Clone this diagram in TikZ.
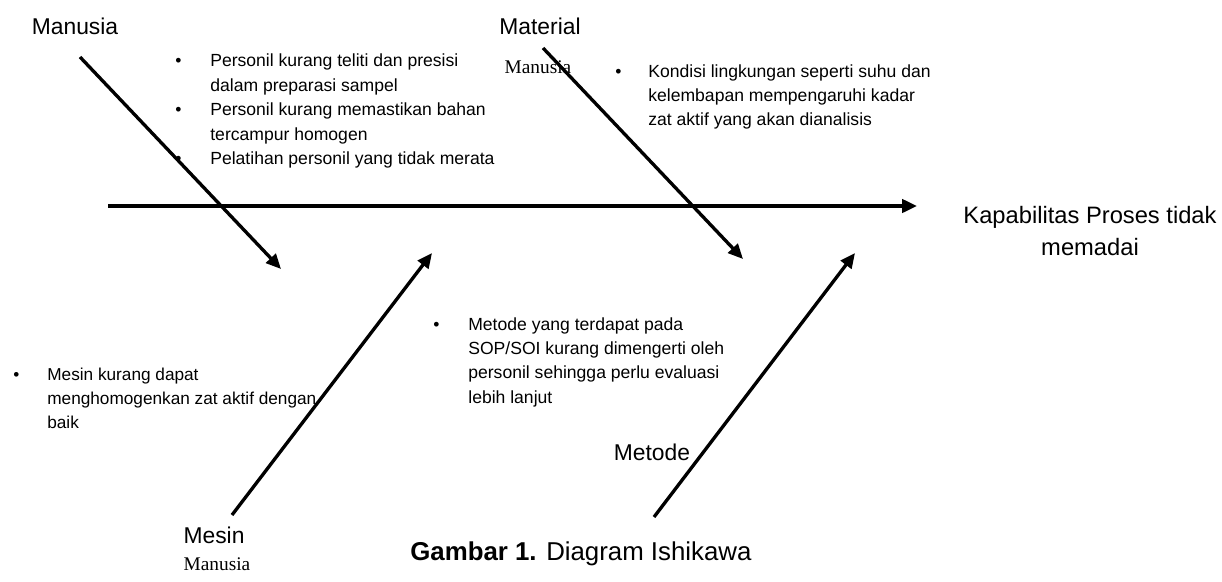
\documentclass[tikz,border=0pt]{standalone}
\usepackage{fontspec}
\setmainfont{Liberation Sans}
\newfontfamily\timesfont{Liberation Serif}
\usepackage{tikz}
\usetikzlibrary{arrows.meta,positioning}

\newcommand{\bul}{\textbullet}

\begin{document}
\begin{tikzpicture}[
x=0.02cm, y=-0.02cm,
>={Triangle[length=8.5pt,width=7.5pt]},
spine/.style={->,line width=2.4pt},
tulang/.style={->,line width=1.9pt},
kategori/.style={anchor=base,inner sep=0,font=\fontsize{13}{15}\selectfont},
sebab/.style={anchor=base west,inner sep=0,font=\fontsize{10}{13.9}\selectfont},
kecil/.style={anchor=base,inner sep=0,font=\timesfont\fontsize{11}{13}\selectfont}
]
    \useasboundingbox (0,0) rectangle (1222,581);

    % Draw spine
    \coordinate (ekor) at (108,206);
    \coordinate (kepala) at (917,206);
    \draw[spine] (ekor) -- (kepala);

    \node[anchor=base,inner sep=0,font=\fontsize{13.5}{18.7}\selectfont] (akibat) at (1090,223)
        {\begin{tabular}[t]{@{}c@{}}Kapabilitas Proses tidak\\ memadai\end{tabular}};

    % Draw bones
    \draw
    (80,57) coordinate (manA)
    (281,269) coordinate (manB)
    (543,48) coordinate (matA)
    (743,259) coordinate (matB)
    (232,515) coordinate (mesA)
    (432,253) coordinate (mesB)
    (654,517) coordinate (metA)
    (855,253) coordinate (metB);

    \draw[tulang] (manA) -- (manB);
    \draw[tulang] (matA) -- (matB);
    \draw[tulang] (mesA) -- (mesB);
    \draw[tulang] (metA) -- (metB);

    % Category labels
    \node[kategori] (manusia) at (75,35) {Manusia};
    \node[kategori] (material) at (540,35) {Material};
    \node[kategori] (mesin) at (214,543) {Mesin};
    \node[kategori] (metode) at (652,460) {Metode};

    \node[kecil] (sisa1) at (538,73) {Manusia};
    \node[kecil] (sisa2) at (217,570) {Manusia};

    % Causes
    \node[sebab] (sebabMan) at (175,67)
        {\begin{tabular}[t]{@{}p{0.7cm}@{}l@{}}
        \bul & Personil kurang teliti dan presisi\\
             & dalam preparasi sampel\\
        \bul & Personil kurang memastikan bahan\\
             & tercampur homogen\\
        \bul & Pelatihan personil yang tidak merata
        \end{tabular}};
    \node[sebab] (sebabMat) at (615,77)
        {\begin{tabular}[t]{@{}p{0.66cm}@{}l@{}}
        \bul & Kondisi lingkungan seperti suhu dan\\
             & kelembapan mempengaruhi kadar\\
             & zat aktif yang akan dianalisis
        \end{tabular}};
    \node[sebab,font=\fontsize{9.8}{13.9}\selectfont] (sebabMes) at (13,380)
        {\begin{tabular}[t]{@{}p{0.68cm}@{}l@{}}
        \bul & Mesin kurang dapat\\
             & menghomogenkan zat aktif dengan\\
             & baik
        \end{tabular}};
    \node[sebab] (sebabMet) at (433,330)
        {\begin{tabular}[t]{@{}p{0.7cm}@{}l@{}}
        \bul & Metode yang terdapat pada\\
             & SOP/SOI kurang dimengerti oleh\\
             & personil sehingga perlu evaluasi\\
             & lebih lanjut
        \end{tabular}};

    % Caption
    \node[anchor=base west,inner sep=0,font=\fontsize{14.7}{17}\selectfont] (judul) at (410,560)
        {\textbf{Gambar 1.} Diagram Ishikawa};

\end{tikzpicture}
\end{document}
